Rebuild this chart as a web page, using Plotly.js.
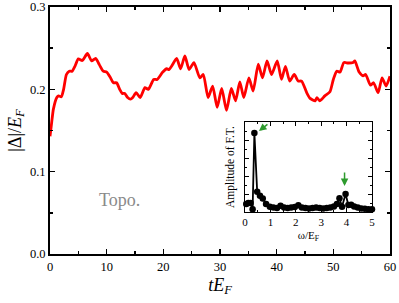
<!DOCTYPE html>
<html>
<head>
<meta charset="utf-8">
<script src="https://cdn.plot.ly/plotly-3.0.1.min.js"></script>
<style>html,body{margin:0;padding:0;background:#fff;}#plot{width:399px;height:303px;}</style>
</head>
<body>
<div id="plot"></div>
<script>
// Main curve: |Delta|/E_F vs t E_F
const tValues = [0, 0.3, 0.6, 1.2, 1.5, 2.0, 2.4, 2.9, 3.4, 3.9, 4.4, 5.0, 5.7, 6.6, 7.35, 8.05, 8.7, 9.4, 10.0, 10.6, 11.2, 11.75, 12.3, 12.75, 13.2, 13.7, 14.2, 14.6, 15.2, 15.9, 16.75, 17.35, 18.3, 18.9, 19.9, 20.6, 21.0, 21.45, 22.35, 23.05, 23.8, 24.55, 25.4, 26.45, 27.05, 27.9, 28.7, 29.5, 30.3, 31.15, 32.0, 32.75, 33.5, 34.2, 35.1, 35.85, 36.75, 37.5, 38.3, 39.1, 40.1, 40.85, 41.55, 42.3, 43.1, 43.8, 44.4, 45.3, 45.9, 46.8, 47.1, 47.6, 48.5, 49.4, 50.0, 50.6, 51.2, 51.85, 52.6, 53.5, 53.8, 54.55, 55.25, 55.7, 56.55, 57.1, 57.9, 58.6, 59.3, 60];
const deltaValues = [0.143, 0.16, 0.176, 0.19, 0.192, 0.191, 0.2, 0.218, 0.222, 0.222, 0.228, 0.237, 0.235, 0.2435, 0.2345, 0.2375, 0.23, 0.222, 0.221, 0.215, 0.208, 0.208, 0.2, 0.195, 0.195, 0.19, 0.188, 0.19, 0.196, 0.19, 0.202, 0.200, 0.212, 0.212, 0.221, 0.225, 0.224, 0.228, 0.2375, 0.225, 0.2406, 0.224, 0.2325, 0.214, 0.218, 0.190, 0.204, 0.178, 0.201, 0.1744, 0.201, 0.186, 0.209, 0.190, 0.214, 0.198, 0.2305, 0.214, 0.2345, 0.218, 0.2345, 0.212, 0.228, 0.210, 0.218, 0.210, 0.210, 0.196, 0.189, 0.186, 0.190, 0.186, 0.192, 0.197, 0.212, 0.222, 0.221, 0.2325, 0.232, 0.2325, 0.2345, 0.221, 0.2165, 0.218, 0.205, 0.208, 0.196, 0.214, 0.204, 0.216];

// Inset: amplitude of Fourier transform vs omega/E_F
const omegaValues = [0.05, 0.13, 0.22, 0.30, 0.37, 0.48, 0.59, 0.70, 0.83, 0.98, 1.12, 1.26, 1.40, 1.54, 1.68, 1.82, 1.96, 2.10, 2.24, 2.38, 2.52, 2.66, 2.80, 2.94, 3.08, 3.22, 3.36, 3.50, 3.62, 3.72, 3.82, 3.96, 4.07, 4.18, 4.30, 4.44, 4.58, 4.72, 4.86, 5.0];
const ampValues = [0.09, 0.10, 0.10, 0.03, 0.88, 0.226, 0.18, 0.15, 0.09, 0.059, 0.05, 0.045, 0.07, 0.05, 0.045, 0.05, 0.055, 0.075, 0.05, 0.045, 0.04, 0.045, 0.05, 0.045, 0.04, 0.045, 0.05, 0.06, 0.09, 0.152, 0.059, 0.2, 0.078, 0.08, 0.06, 0.05, 0.04, 0.035, 0.03, 0.03];

const mainXTicks = [0, 10, 20, 30, 40, 50, 60];
const mainYTicks = [0.0, 0.1, 0.2, 0.3];
const insetXTicks = [0, 1, 2, 3, 4, 5];

const serif = 'Times New Roman, Liberation Serif, serif';

const traces = [
  {x: tValues, y: deltaValues, type: 'scatter', mode: 'lines',
   line: {color: '#ff0000', width: 2.8, shape: 'spline', smoothing: 0.6},
   xaxis: 'x', yaxis: 'y', hoverinfo: 'skip'},
  {x: omegaValues, y: ampValues, type: 'scatter', mode: 'lines+markers',
   line: {color: '#000', width: 1.8},
   marker: {color: '#000', size: 6.5},
   xaxis: 'x2', yaxis: 'y2', hoverinfo: 'skip', cliponaxis: false}
];

const layout = {
  width: 399, height: 303,
  margin: {l: 50, r: 9, t: 7, b: 49},
  paper_bgcolor: '#fff', plot_bgcolor: '#fff',
  showlegend: false,
  font: {family: serif, color: '#000', size: 11},
  xaxis: {
    domain: [0, 1], range: [0, 60],
    tickvals: mainXTicks, ticktext: mainXTicks.map(String),
    ticks: 'inside', ticklen: 5, tickwidth: 1.5, tickcolor: '#000',
    minor: {ticks: 'inside', dtick: 5, ticklen: 3, tickwidth: 1.5, tickcolor: '#000'},
    showline: true, linewidth: 2, linecolor: '#000', mirror: 'ticks',
    showgrid: false, zeroline: false,
    tickfont: {family: serif, size: 12.5, color: '#000'},
    title: {text: '<i>tE<sub>F</sub></i>', font: {family: serif, size: 18}, standoff: 5}
  },
  yaxis: {
    domain: [0, 1], range: [0, 0.3],
    tickvals: mainYTicks, ticktext: mainYTicks.map(v => v.toFixed(1)),
    ticks: 'inside', ticklen: 5, tickwidth: 1.5, tickcolor: '#000',
    minor: {ticks: 'inside', dtick: 0.05, ticklen: 3, tickwidth: 1.5, tickcolor: '#000'},
    showline: true, linewidth: 2, linecolor: '#000', mirror: 'ticks',
    showgrid: false, zeroline: false,
    tickfont: {family: serif, size: 12.5, color: '#000'},
    title: {text: '|Δ|/<i>E<sub>F</sub></i>', font: {family: serif, size: 18}, standoff: 4}
  },
  xaxis2: {
    domain: [0.5735, 0.947], range: [0, 5], anchor: 'y2',
    tickvals: insetXTicks, ticktext: insetXTicks.map(String),
    ticks: 'inside', ticklen: 4, tickwidth: 1, tickcolor: '#000',
    minor: {ticks: 'inside', dtick: 0.5, ticklen: 2, tickwidth: 1, tickcolor: '#000'},
    showline: true, linewidth: 1.2, linecolor: '#000', mirror: 'ticks',
    showgrid: false, zeroline: false,
    tickfont: {family: serif, size: 11, color: '#000'},
    title: {text: 'ω/E<sub>F</sub>', font: {family: serif, size: 11}, standoff: 3}
  },
  yaxis2: {
    domain: [0.170, 0.534], range: [0, 1], anchor: 'x2',
    showticklabels: false,
    dtick: 0.2, ticks: 'inside', ticklen: 4, tickwidth: 1, tickcolor: '#000',
    minor: {ticks: 'inside', dtick: 0.1, ticklen: 2, tickwidth: 1, tickcolor: '#000'},
    showline: true, linewidth: 1.2, linecolor: '#000', mirror: 'ticks',
    showgrid: false, zeroline: false,
    title: {text: 'Amplitude of F.T.', font: {family: serif, size: 11.5}, standoff: 6}
  },
  annotations: [
    {xref: 'paper', yref: 'paper', x: 0.138, y: 0.17, text: 'Topo.', showarrow: false,
     font: {family: serif, size: 18, color: '#8a8a8a'}},
    {xref: 'x2', yref: 'y2', x: 0.55, y: 0.9, ax: 10, ay: -8, text: '', showarrow: true,
     arrowhead: 2, arrowsize: 1, arrowwidth: 1.5, arrowcolor: '#2e9b2e'},
    {xref: 'x2', yref: 'y2', x: 3.92, y: 0.29, ax: 0, ay: -15, text: '', showarrow: true,
     arrowhead: 2, arrowsize: 1, arrowwidth: 1.5, arrowcolor: '#2e9b2e'}
  ]
};

Plotly.newPlot('plot', traces, layout, {staticPlot: true, displayModeBar: false});
</script>
</body>
</html>
